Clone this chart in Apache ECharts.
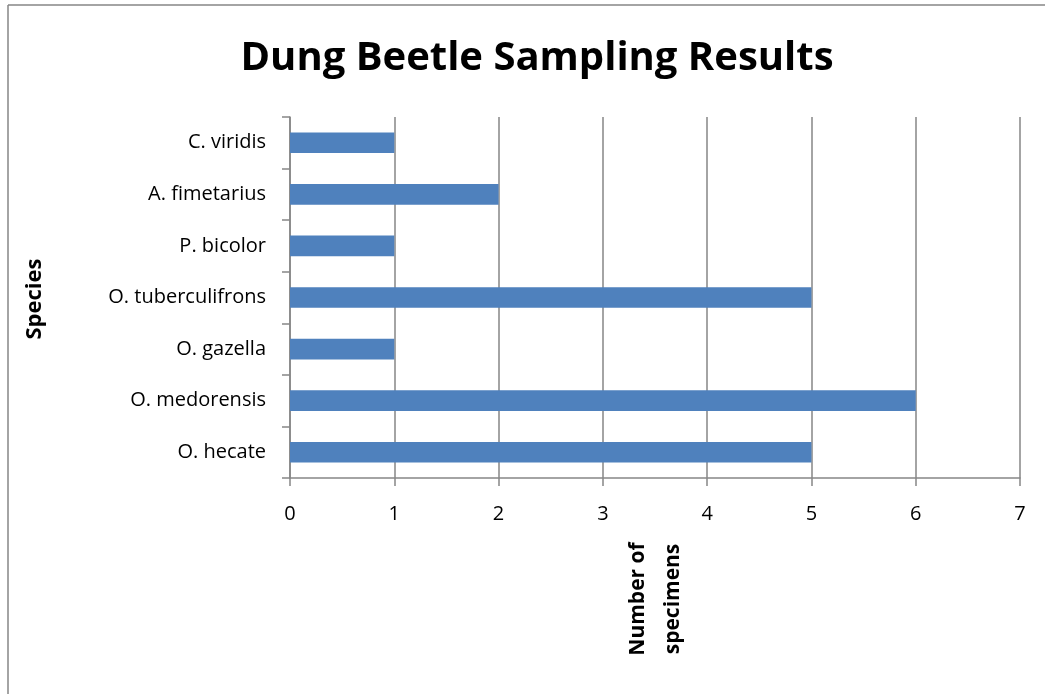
<!DOCTYPE html>
<html>
<head>
<meta charset="utf-8">
<script src="https://cdn.jsdelivr.net/npm/echarts@6/dist/echarts.min.js"></script>
<style>html,body{margin:0;padding:0;background:#fff;}#c{width:1045px;height:694px;}</style>
</head>
<body>
<div id="c"></div>
<script>
const categories = ['O. hecate', 'O. medorensis', 'O. gazella', 'O. tuberculifrons', 'P. bicolor', 'A. fimetarius', 'C. viridis'];
const specimens = [5, 6, 1, 5, 1, 2, 1];
const xTicks = [0, 1, 2, 3, 4, 5, 6, 7];

const chart = echarts.init(document.getElementById('c'));
const font = '"Open Sans", "Noto Sans", sans-serif';
const axisGray = '#868686';
chart.setOption({
  animation: false,
  backgroundColor: '#fff',
  title: {
    text: 'Dung Beetle Sampling Results',
    left: 532, top: 34, textAlign: 'center',
    textStyle: { fontFamily: font, fontSize: 40, fontWeight: 'bold', color: '#000' }
  },
  grid: { left: 290, right: 25, top: 117, bottom: 216 },
  xAxis: {
    type: 'value', min: xTicks[0], max: xTicks[xTicks.length - 1], interval: 1,
    axisLine: { show: true, lineStyle: { color: axisGray, width: 1.5 } },
    axisTick: { show: true, length: 8, lineStyle: { color: axisGray, width: 1.5 } },
    axisLabel: { fontFamily: font, fontSize: 20, color: '#000', margin: 26 },
    splitLine: { show: true, lineStyle: { color: axisGray, width: 1.5 } }
  },
  yAxis: {
    type: 'category', data: categories,
    axisLine: { show: true, lineStyle: { color: axisGray, width: 1.5 } },
    axisTick: { show: true, length: 8, lineStyle: { color: axisGray, width: 1.5 } },
    axisLabel: { fontFamily: font, fontSize: 20, color: '#000', margin: 24 },
    splitLine: { show: false }
  },
  series: [{
    type: 'bar', data: specimens, barWidth: '40%',
    itemStyle: { color: '#4f81bd' }
  }],
  graphic: [
    { type: 'line', shape: { x1: 8, y1: 5, x2: 8, y2: 694 }, style: { stroke: axisGray, lineWidth: 1.5 } },
    { type: 'line', shape: { x1: 8, y1: 5, x2: 1045, y2: 5 }, style: { stroke: axisGray, lineWidth: 1.5 } },
    { type: 'text', x: 35, y: 299, rotation: Math.PI / 2,
      style: { text: 'Species', font: 'bold 22px ' + font, fill: '#000', textAlign: 'center', textVerticalAlign: 'middle' } },
    { type: 'text', x: 656, y: 599, rotation: Math.PI / 2,
      style: { text: 'Number of\nspecimens', font: 'bold 21px ' + font, fill: '#000', textAlign: 'center', textVerticalAlign: 'middle', lineHeight: 35 } }
  ]
});
</script>
</body>
</html>
